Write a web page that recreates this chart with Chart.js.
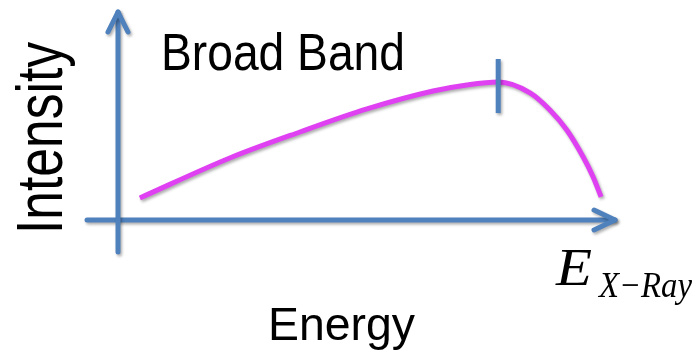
<!DOCTYPE html>
<html>
<head>
<meta charset="utf-8">
<script src="https://cdn.jsdelivr.net/npm/chart.js@4/dist/chart.umd.min.js"></script>
<style>
html,body{margin:0;padding:0;background:#fff;}
#wrap{width:697px;height:351px;}
</style>
</head>
<body>
<div id="wrap"><canvas id="c" width="697" height="351"></canvas></div>
<script>
// ---- data (arbitrary units; origin at axis crossing) ----
const energyValues    = [0.44, 2.25, 3.66, 5.01, 6.34, 7.02, 7.65, 8.29, 8.69, 9.03, 9.36, 9.56, 9.72];
const intensityValues = [1.06, 2.98, 4.23, 5.34, 6.20, 6.49, 6.63, 6.11, 5.29, 4.33, 3.03, 2.07, 1.11];
const peakMarkX = [7.65, 7.65];
const peakMarkY = [5.14, 7.74];
const axisMin = [0, 0];
const axisMax = [10, 10];
const titleText = 'Broad Band';
const yAxisTitle = 'Intensity';
const xAxisTitle = 'Energy';
const markerMain = 'E';
const markerSub = 'X\u2212Ray';

const curvePoints = energyValues.map((x, i) => ({x: x, y: intensityValues[i]}));
const markPoints = peakMarkX.map((x, i) => ({x: x, y: peakMarkY[i]}));

const BLUE = '#4F81BD';
const MAGENTA = '#DF40F2';

function setShadow(ctx){
  ctx.shadowColor = 'rgba(0,0,0,0.32)';
  ctx.shadowBlur = 3;
  ctx.shadowOffsetX = 1.5;
  ctx.shadowOffsetY = 2;
}

const axesPlugin = {
  id: 'arrowAxes',
  beforeDatasetsDraw(chart){
    const ctx = chart.ctx;
    const xs = chart.scales.x, ys = chart.scales.y;
    const ox = xs.getPixelForValue(axisMin[0]);
    const oy = ys.getPixelForValue(axisMin[1]);
    const tx = xs.getPixelForValue(axisMax[0]);
    const ty = ys.getPixelForValue(axisMax[1]);
    ctx.save();
    setShadow(ctx);
    ctx.strokeStyle = BLUE;
    ctx.lineWidth = 5;
    ctx.lineCap = 'round';
    ctx.lineJoin = 'round';
    // horizontal axis
    ctx.beginPath();
    ctx.moveTo(ox - 31, oy);
    ctx.lineTo(tx, oy);
    ctx.stroke();
    ctx.beginPath();
    ctx.moveTo(tx - 21, oy - 10);
    ctx.lineTo(tx, oy);
    ctx.lineTo(tx - 21, oy + 10);
    ctx.stroke();
    // vertical axis
    ctx.beginPath();
    ctx.moveTo(ox, oy + 32);
    ctx.lineTo(ox, ty);
    ctx.stroke();
    ctx.beginPath();
    ctx.moveTo(ox - 10, ty + 20);
    ctx.lineTo(ox, ty);
    ctx.lineTo(ox + 10, ty + 20);
    ctx.stroke();
    ctx.restore();
    // shadow for datasets
    ctx.save();
    setShadow(ctx);
  },
  afterDatasetsDraw(chart){
    chart.ctx.restore();
  },
  afterDraw(chart){
    const ctx = chart.ctx;
    ctx.save();
    ctx.fillStyle = '#000';
    ctx.textBaseline = 'alphabetic';
    ctx.textAlign = 'left';
    function fitText(txt, font, x, y, width, rot){
      ctx.save();
      ctx.font = font;
      const w = ctx.measureText(txt).width;
      ctx.translate(x, y);
      if (rot) ctx.rotate(rot);
      if (width) ctx.scale(width / w, 1);
      ctx.fillText(txt, 0, 0);
      ctx.restore();
    }
    fitText(titleText, '52px "Liberation Sans", Arial, sans-serif', 161, 70, 244, 0);
    fitText(yAxisTitle, '64px "Liberation Sans", Arial, sans-serif', 62, 234, 192, -Math.PI/2);
    fitText(xAxisTitle, '46px "Liberation Sans", Arial, sans-serif', 268, 340, 147, 0);
    fitText(markerMain, 'italic 53px "Liberation Serif", "Times New Roman", serif', 556, 285, 36, 0);
    fitText(markerSub, 'italic 36px "Liberation Serif", "Times New Roman", serif', 599, 297, 93, 0);
    ctx.restore();
  }
};

new Chart(document.getElementById('c'), {
  type: 'scatter',
  data: {
    datasets: [
      {
        data: markPoints,
        showLine: true,
        borderColor: BLUE,
        borderWidth: 5,
        borderCapStyle: 'butt',
        pointRadius: 0,
        pointHoverRadius: 0
      },
      {
        data: curvePoints,
        showLine: true,
        borderColor: MAGENTA,
        borderWidth: 5,
        borderCapStyle: 'butt',
        cubicInterpolationMode: 'monotone',
        pointRadius: 0,
        pointHoverRadius: 0
      }
    ]
  },
  options: {
    responsive: false,
    animation: false,
    devicePixelRatio: 1,
    layout: {padding: {left: 118, right: 82, top: 12, bottom: 131}},
    plugins: {legend: {display: false}, tooltip: {enabled: false}, title: {display: false}},
    scales: {
      x: {type: 'linear', display: false, min: axisMin[0], max: axisMax[0]},
      y: {type: 'linear', display: false, min: axisMin[1], max: axisMax[1]}
    },
    events: []
  },
  plugins: [axesPlugin]
});
</script>
</body>
</html>
